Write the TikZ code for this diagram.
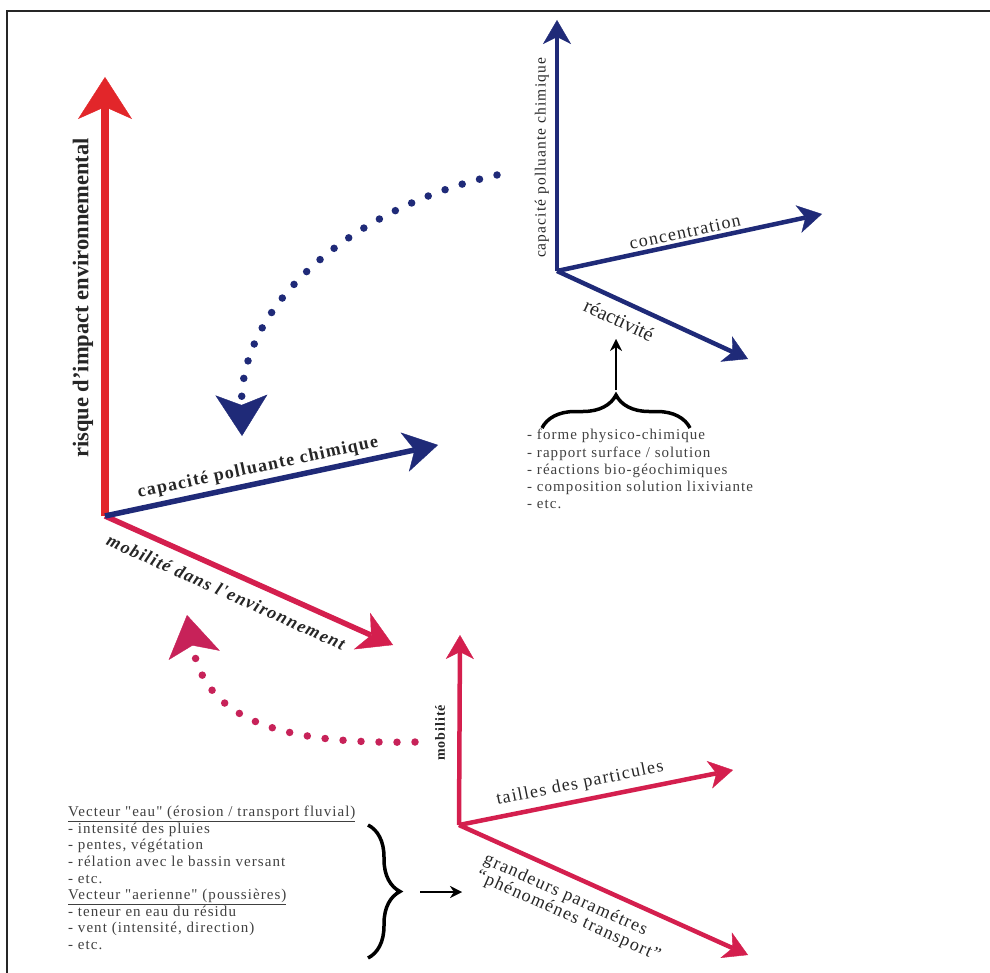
\documentclass[tikz,border=0pt]{standalone}
\usepackage{fontspec}
\setmainfont{Liberation Serif}
\newfontfamily\wideserif[LetterSpace=7]{Liberation Serif}
\usepackage{xcolor}
\definecolor{IMPred}{HTML}{E2262A}
\definecolor{IMPcrimson}{HTML}{D41F4E}
\definecolor{IMPblue}{HTML}{1F2A78}
\definecolor{IMPdots}{HTML}{C72259}
\definecolor{IMPframe}{HTML}{262626}
\usepackage{tikz}
\usetikzlibrary{arrows.meta, positioning, decorations.pathreplacing}

\begin{document}
\begin{tikzpicture}[
  x=1pt, y=-1pt,
  every node/.style={inner sep=0pt, text=black!85},
  biglbl/.style={font=\bfseries\fontsize{22.5}{24}\selectfont},
  boldlbl/.style={font=\wideserif\bfseries\fontsize{18}{20}\selectfont},
  axlbl/.style={font=\wideserif\fontsize{18}{18}\selectfont},
  listtxt/.style={align=left, anchor=north west, text=black!75,
    font=\wideserif\fontsize{15}{#1}\selectfont},
  mainarr/.style={line width=7.5pt, -{Stealth[length=42pt, width=54pt, inset=12pt, line width=0.4pt]}},
  subarr/.style={line width=5.5pt, -{Stealth[length=34pt, width=40pt, inset=10pt, line width=0.4pt]}},
  arr/.style={line width=4.5pt, -{Stealth[length=24pt, width=28pt, inset=7pt, line width=0.4pt]}},
  dotarr/.style={line width=7.5pt, line cap=round, dash pattern=on 0pt off 18pt,
    -{Stealth[length=41pt, width=52pt, inset=10pt, line width=0.4pt]}},
  brc/.style={decorate, decoration={brace, amplitude=#1}, line width=3.5pt, black},
  ptr/.style={line width=2.5pt, black, -{Stealth[length=12pt, width=12pt, line width=0.4pt]}}
]
\useasboundingbox (0,0) rectangle (990,973);
\draw[line width=2pt, IMPframe] (7,973) -- (7,11) -- (990,11);

\coordinate (risk0) at (105,516);
\coordinate (riskEnd) at (105,77);
\coordinate (chemEnd) at (438,445);
\coordinate (mobEnd) at (393,645);
\draw[mainarr, IMPred] (risk0) -- (riskEnd);
\draw[subarr, IMPcrimson] (risk0) -- (mobEnd);
\draw[subarr, IMPblue] (risk0) -- (chemEnd);
\node[biglbl, rotate=90] (riskLbl) at (83,298) {risque d'impact environnemental};
\node[boldlbl, rotate=12] (chemLbl) at (258,468) {capacité polluante chimique};
\node[boldlbl, rotate=-24.1] (mobLbl) at (226,592) {\itshape mobilité dans l'environnement};

\coordinate (cap0) at (557,271);
\coordinate (capEnd) at (557,20);
\coordinate (concEnd) at (822,214);
\coordinate (reacEnd) at (748,359);
\draw[arr, IMPblue] (cap0) -- (capEnd);
\draw[arr, IMPblue] (cap0) -- (concEnd);
\draw[arr, IMPblue] (cap0) -- (reacEnd);
\node[axlbl, rotate=90, font=\wideserif\fontsize{15.5}{17}\selectfont] (capLbl) at (542,158) {capacité polluante chimique};
\node[axlbl, rotate=12.1] (concLbl) at (685,232) {concentration};
\node[rotate=-24.7, font=\fontsize{20}{20}\selectfont] (reacLbl) at (619,320) {réactivité};

\coordinate (reacBraceL) at (542,428);
\coordinate (reacBraceR) at (690,428);
\coordinate (reacBraceTip) at (616,390);
\coordinate (reacPtrEnd) at (616,339);
\draw[brc=33] (reacBraceL) -- (reacBraceR);
\draw[ptr] (reacBraceTip) -- (reacPtrEnd);
\node[listtxt=17.3] (reacList) at (527,429) {- forme physico-chimique\\- rapport surface / solution\\- réactions bio-géochimiques\\- composition solution lixiviante\\- etc.};

\coordinate (mob0) at (459,825);
\coordinate (mobTop) at (460,635);
\coordinate (sizeEnd) at (733,770);
\coordinate (transEnd) at (748,955);
\draw[arr, IMPcrimson] (mob0) -- (mobTop);
\draw[arr, IMPcrimson] (mob0) -- (sizeEnd);
\draw[arr, IMPcrimson] (mob0) -- (transEnd);
\node[font=\wideserif\bfseries\fontsize{14}{16}\selectfont, rotate=90] (mobTopLbl) at (440,733) {mobilité};
\node[axlbl, rotate=11.35] (sizeLbl) at (580,784) {tailles des particules};
\node[axlbl, align=left, rotate=-24.2] (transLbl) at (572,908) {grandeurs paramétres\\“phénoménes transport”};

\node[listtxt=16.6] (waterList) at (68,806) {\underline{Vecteur "eau" (érosion / transport fluvial)}\\- intensité des pluies\\- pentes, végétation\\- rélation avec le bassin versant\\- etc.\\\underline{Vecteur "aerienne" (poussières)}\\- teneur en eau du résidu\\- vent (intensité, direction)\\- etc.};
\coordinate (waterBraceT) at (368,825);
\coordinate (waterBraceB) at (368,958);
\coordinate (paramOut) at (420,892);
\coordinate (paramIn) at (462,892);
\draw[brc=32] (waterBraceT) -- (waterBraceB);
\draw[ptr] (paramOut) -- (paramIn);

\coordinate (chemLinkStart) at (497,175);
\coordinate (chemLinkEnd) at (242,436);
\draw[dotarr, IMPblue] (chemLinkStart) .. controls (360,205) and (240,300) .. (chemLinkEnd);
\coordinate (mobLinkStart) at (415,742);
\coordinate (mobLinkEnd) at (187,615);
\draw[dotarr, IMPdots] (mobLinkStart) .. controls (270,745) and (205,715) .. (mobLinkEnd);
\end{tikzpicture}
\end{document}
